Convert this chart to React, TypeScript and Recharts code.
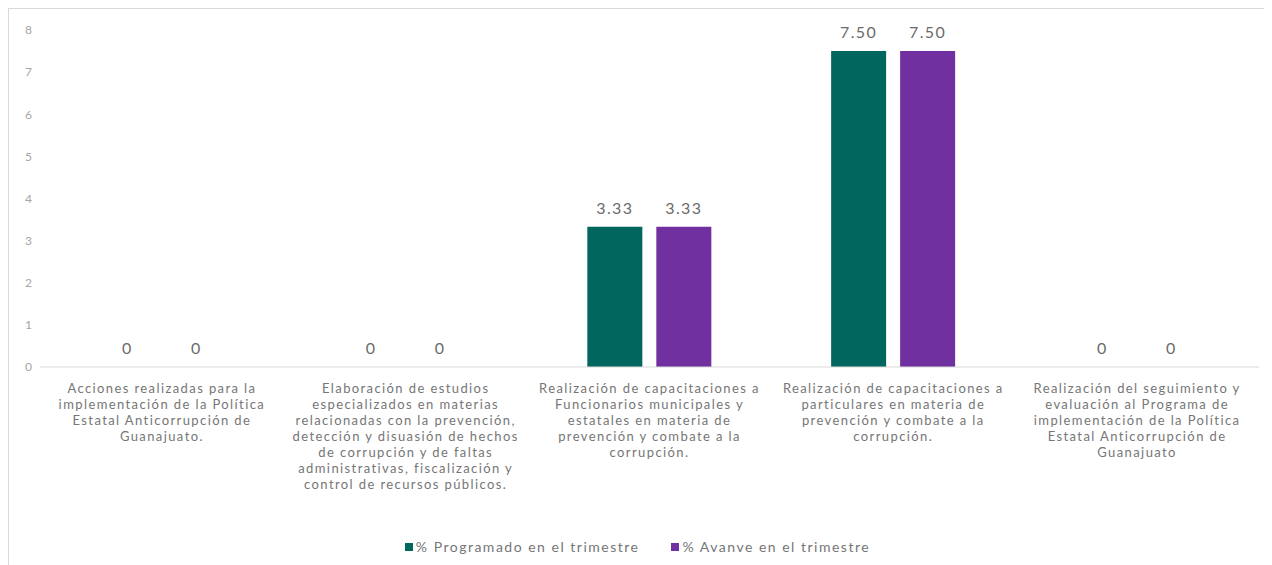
import React from "react";
import { BarChart, Bar, XAxis, YAxis, Legend, LabelList } from "recharts";

const categoryLines: string[][] = [
  ["Acciones realizadas para la", "implementación de la Política", "Estatal Anticorrupción de", "Guanajuato."],
  [
    "Elaboración de estudios",
    "especializados en materias",
    "relacionadas con la prevención,",
    "detección y disuasión de hechos",
    "de corrupción y de faltas",
    "administrativas, fiscalización y",
    "control de recursos públicos.",
  ],
  ["Realización de capacitaciones a", "Funcionarios municipales y", "estatales en materia de", "prevención y combate a la", "corrupción."],
  ["Realización de capacitaciones a", "particulares en materia de", "prevención y combate a la", "corrupción."],
  ["Realización del seguimiento y", "evaluación al Programa de", "implementación de la Política", "Estatal Anticorrupción de", "Guanajuato"],
];

const categories = categoryLines.map((l) => l.join(" "));
const programado = [0, 0, 3.33, 7.5, 0];
const avance = [0, 0, 3.33, 7.5, 0];
const yTicks = [0, 1, 2, 3, 4, 5, 6, 7, 8];

const data = categories.map((name, i) => ({
  name,
  programado: programado[i],
  avance: avance[i],
}));

const FONT = "Lato, sans-serif";
const TEAL = "#00665e";
const PURPLE = "#7030a0";
const TEXT = "#767676";

const fmt = (v: any) => (Number(v) === 0 ? "0" : Number(v).toFixed(2));

// value above each bar, zero-height bars too
function ValueLabel(props: any) {
  const { x, y, width, value } = props;
  return (
    <text
      x={Number(x) + Number(width) / 2}
      y={Number(y) - 13}
      textAnchor="middle"
      fill="#6b6b6b"
      fontSize={16}
      letterSpacing={1.4}
      fontFamily={FONT}
    >
      {fmt(value)}
    </text>
  );
}

function CategoryTick(props: any) {
  const { x, y, payload } = props;
  const idx = categories.indexOf(payload.value);
  const lines = categoryLines[idx] || [payload.value];
  return (
    <g>
      {lines.map((line, i) => (
        <text
          key={i}
          x={x}
          y={y + 18 + i * 16}
          textAnchor="middle"
          fill={TEXT}
          fontSize={13}
          letterSpacing={1.4}
          fontFamily={FONT}
        >
          {line}
        </text>
      ))}
    </g>
  );
}

function LegendContent() {
  const items = [
    { label: "% Programado en el trimestre", color: TEAL },
    { label: "% Avanve en el trimestre", color: PURPLE },
  ];
  return (
    <div
      style={{
        display: "flex",
        justifyContent: "center",
        gap: 32,
        fontFamily: FONT,
        fontSize: 14,
        letterSpacing: 1.5,
        color: TEXT,
      }}
    >
      {items.map((it) => (
        <span key={it.label} style={{ display: "inline-flex", alignItems: "center" }}>
          <span style={{ width: 8, height: 8, background: it.color, marginRight: 3, display: "inline-block" }} />
          {it.label}
        </span>
      ))}
    </div>
  );
}

export default function App() {
  return (
    <div
      style={{
        width: 1264,
        height: 557,
        borderTop: "1px solid #d9d9d9",
        borderLeft: "1px solid #d9d9d9",
        boxSizing: "border-box",
      }}
    >
      <BarChart
        width={1263}
        height={556}
        data={data}
        margin={{ top: 21, right: 13, left: 7, bottom: 10 }}
        barCategoryGap="24.5%"
        barGap={14}
      >
        <XAxis
          dataKey="name"
          interval={0}
          tickLine={false}
          axisLine={{ stroke: "#d9d9d9" }}
          height={171}
          tick={<CategoryTick />}
        />
        <YAxis
          width={24}
          domain={[0, 8]}
          ticks={yTicks}
          axisLine={false}
          tickLine={false}
          tick={{ fill: "#a6a6a6", fontSize: 12, fontFamily: FONT }}
        />
        <Legend verticalAlign="bottom" content={<LegendContent />} />
        <Bar
          dataKey="programado"
          name="% Programado en el trimestre"
          fill={TEAL}
          minPointSize={0.01}
          isAnimationActive={false}
        >
          <LabelList dataKey="programado" content={<ValueLabel />} />
        </Bar>
        <Bar
          dataKey="avance"
          name="% Avanve en el trimestre"
          fill={PURPLE}
          minPointSize={0.01}
          isAnimationActive={false}
        >
          <LabelList dataKey="avance" content={<ValueLabel />} />
        </Bar>
      </BarChart>
    </div>
  );
}
